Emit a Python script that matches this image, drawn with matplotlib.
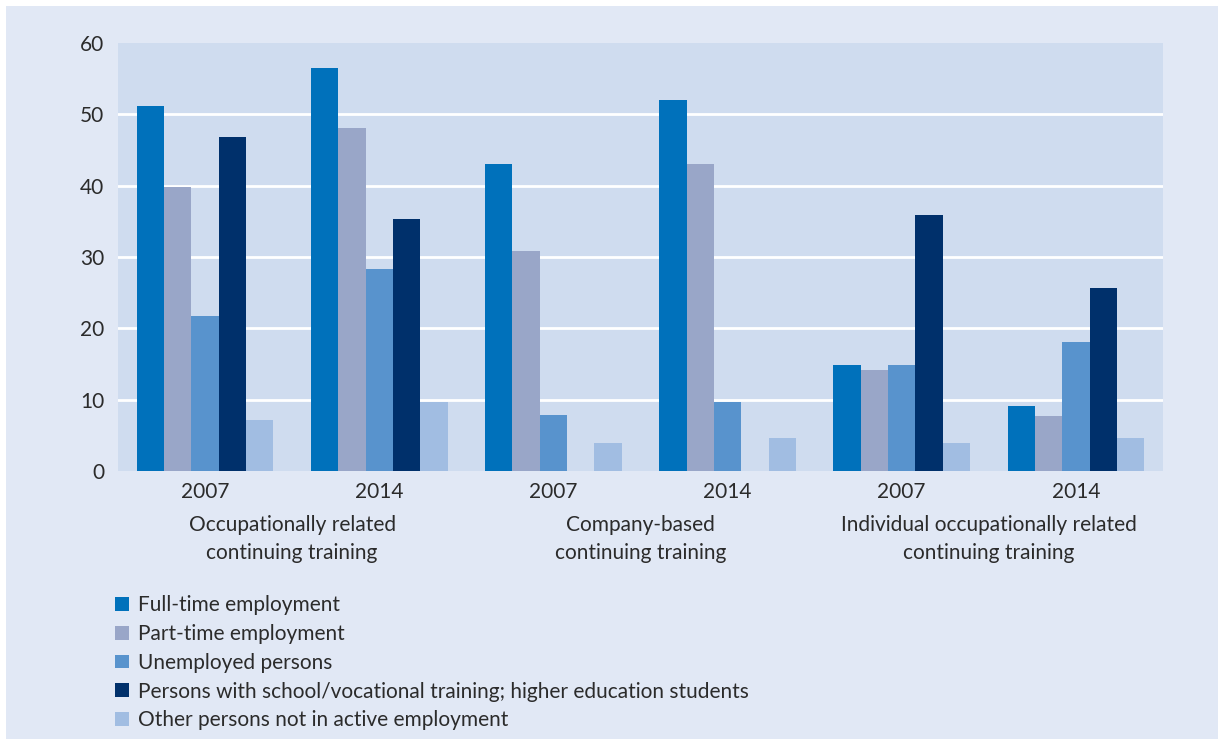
import numpy as np
import matplotlib
matplotlib.use("Agg")
import matplotlib.pyplot as plt
from matplotlib.patches import Rectangle

plt.rcParams["font.family"] = ["Lato", "DejaVu Sans"]

years = ["2007", "2014", "2007", "2014", "2007", "2014"]
groups = ["Occupationally related\ncontinuing training",
          "Company-based\ncontinuing training",
          "Individual occupationally related\ncontinuing training"]
series = ["Full-time employment", "Part-time employment", "Unemployed persons",
          "Persons with school/vocational training; higher education students",
          "Other persons not in active employment"]
full_time = [51.2, 56.5, 43.0, 52.0, 14.9, 9.1]
part_time = [39.8, 48.1, 30.8, 43.0, 14.2, 7.7]
unemployed = [21.7, 28.3, 7.8, 9.7, 14.9, 18.1]
school = [46.8, 35.3, np.nan, np.nan, 35.9, 25.6]
other = [7.1, 9.7, 3.9, 4.6, 3.9, 4.6]
values = [full_time, part_time, unemployed, school, other]
colors = ["#0071bb", "#99a6c8", "#5893cd", "#00306b", "#a1bde2"]

TXT = "#2b2b2b"
fig = plt.figure(figsize=(12.24, 7.39), dpi=100)
fig.patch.set_facecolor("white")
fig.patches.append(Rectangle((6 / 1224, 0), 1212 / 1224, 1 - 6 / 739,
                             transform=fig.transFigure, facecolor="#e1e8f5",
                             edgecolor="none", zorder=-10))

ax = fig.add_axes([118 / 1224, 1 - 471 / 739, 1045 / 1224, 428 / 739])
ax.set_facecolor("#cfdcef")
x = np.arange(len(years))
w = 0.157
handles = []
for i, (vals, c) in enumerate(zip(values, colors)):
    h = ax.bar(x + (i - 2) * w, vals, w, color=c, linewidth=0, zorder=3)
    handles.append(h)

ax.set_xlim(-0.5, len(years) - 0.5)
ax.set_ylim(0, 60)
ax.set_yticks(range(0, 61, 10))
for yv in range(10, 60, 10):
    ax.axhline(yv, color="white", linewidth=2, zorder=1)
for s in ax.spines.values():
    s.set_visible(False)
ax.tick_params(length=0, labelsize=15, colors=TXT, pad=10)
ax.tick_params(axis="x", pad=8)
ax.set_xticks(x)
ax.set_xticklabels(years)

for g, lab in enumerate(groups):
    ax.text(2 * g + 0.5, -0.102, lab, transform=ax.get_xaxis_transform(),
            ha="center", va="top", fontsize=15, color=TXT, linespacing=1.55)

fig.legend(handles, series, loc="upper left", bbox_to_anchor=(107 / 1224, 1 - 587 / 739),
           frameon=False, fontsize=15, labelcolor=TXT, handlelength=0.65,
           handleheight=0.65, handletextpad=0.45, labelspacing=0.42, borderaxespad=0)

fig.savefig("out.png", dpi=100)
